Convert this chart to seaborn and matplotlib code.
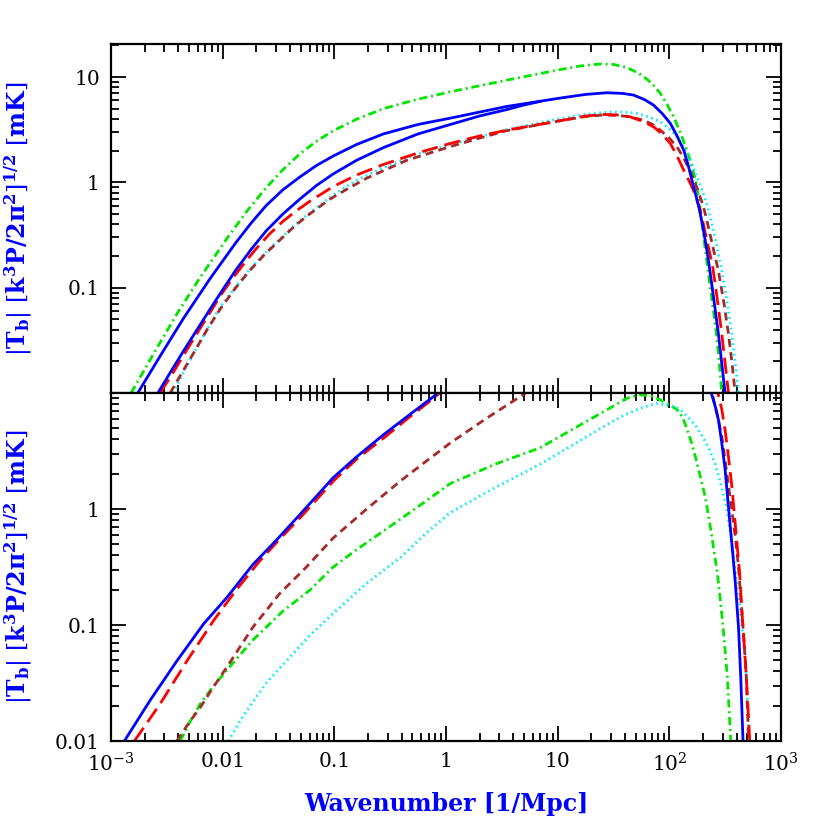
import numpy as np
import matplotlib
matplotlib.use("Agg")
import matplotlib.pyplot as plt
import seaborn as sns
from matplotlib.ticker import LogLocator, NullFormatter, FixedLocator

# log10(k [1/Mpc]) and log10(|T_b| [mK])

# --- upper panel ---
top_green_logk = [-2.82, -2.62, -2.41, -2.20, -1.96, -1.78, -1.61, -1.46, -1.31, -1.16, -1.01, -0.80,
                  -0.56, -0.25, 0.04, 0.54, 1.02, 1.20, 1.38, 1.50, 1.62, 1.72, 1.80, 1.86, 1.92,
                  1.98, 2.04, 2.10, 2.16, 2.20, 2.24, 2.27, 2.30, 2.33, 2.36, 2.39, 2.42, 2.445, 2.47]
top_green_logT = [-2.00, -1.63, -1.25, -0.90, -0.53, -0.27, -0.05, 0.12, 0.27, 0.39, 0.49, 0.60,
                  0.70, 0.79, 0.86, 0.97, 1.07, 1.105, 1.124, 1.12, 1.09, 1.04, 0.98, 0.92, 0.845,
                  0.74, 0.62, 0.47, 0.30, 0.16, 0.00, -0.20, -0.45, -0.70, -0.94, -1.18, -1.42, -1.68, -2.00]

top_blue1_logk = [-2.76, -2.56, -2.35, -2.11, -1.88, -1.74, -1.61, -1.46, -1.31, -1.16, -1.01, -0.80,
                  -0.56, -0.25, 0.04, 0.54, 1.02, 1.25, 1.44, 1.58, 1.68, 1.78, 1.86, 1.94, 2.01,
                  2.07, 2.13, 2.17, 2.21, 2.24, 2.27, 2.30, 2.33, 2.36, 2.40, 2.44, 2.47, 2.50]
top_blue1_logT = [-2.00, -1.65, -1.29, -0.91, -0.57, -0.38, -0.22, -0.07, 0.05, 0.16, 0.25, 0.36,
                  0.46, 0.55, 0.61, 0.72, 0.80, 0.835, 0.851, 0.845, 0.829, 0.785, 0.733, 0.65, 0.559,
                  0.44, 0.305, 0.16, -0.01, -0.13, -0.26, -0.42, -0.60, -0.81, -1.12, -1.44, -1.72, -2.00]

top_blue2_logk = [-2.58, -2.46, -2.35, -2.23, -2.11, -2.00, -1.88, -1.74, -1.61, -1.46, -1.31, -1.16,
                  -1.01, -0.80, -0.56, -0.25, 0.04, 0.30, 0.54, 0.70, 0.85]
top_blue2_logT = [-2.00, -1.79, -1.60, -1.40, -1.20, -1.02, -0.83, -0.63, -0.46, -0.30, -0.16, -0.03,
                  0.08, 0.21, 0.33, 0.46, 0.55, 0.63, 0.69, 0.735, 0.77]

top_red_logk = [-2.56, -2.44, -2.32, -2.21, -2.11, -2.01, -1.91, -1.80, -1.70, -1.58, -1.46, -1.34,
                -1.22, -1.01, -0.80, -0.56, -0.25, 0.04, 0.30, 0.54, 1.02, 1.25, 1.41, 1.55, 1.65,
                1.76, 1.86, 1.94, 2.01, 2.07, 2.13, 2.17, 2.21, 2.24, 2.27, 2.30, 2.33, 2.36, 2.39,
                2.43, 2.47, 2.50, 2.53]
top_red_logT = [-2.00, -1.80, -1.59, -1.40, -1.23, -1.06, -0.91, -0.76, -0.63, -0.49, -0.37, -0.27,
                -0.18, -0.04, 0.07, 0.17, 0.28, 0.37, 0.44, 0.495, 0.585, 0.63, 0.645, 0.64, 0.622,
                0.58, 0.527, 0.455, 0.368, 0.25, 0.114, 0.03, -0.06, -0.14, -0.24, -0.37, -0.52, -0.66, -0.81,
                -1.11, -1.44, -1.72, -2.00]

top_brown_logk = [-2.47, -2.36, -2.26, -2.14, -2.02, -1.89, -1.76, -1.62, -1.49, -1.35, -1.22, -1.04,
                  -0.88, -0.71, -0.35, 0.04, 0.30, 0.54, 1.02, 1.25, 1.41, 1.55, 1.65, 1.77, 1.85,
                  1.92, 2.00, 2.07, 2.13, 2.19, 2.23, 2.27, 2.30, 2.33, 2.36, 2.39, 2.44, 2.49, 2.53,
                  2.56, 2.59]
top_brown_logT = [-2.00, -1.80, -1.62, -1.40, -1.20, -1.01, -0.84, -0.68, -0.55, -0.41, -0.30, -0.16,
                  -0.06, 0.04, 0.21, 0.34, 0.42, 0.49, 0.585, 0.625, 0.64, 0.635, 0.622, 0.59, 0.55,
                  0.495, 0.42, 0.336, 0.23, 0.10, 0.00, -0.12, -0.21, -0.33, -0.47, -0.61, -0.84, -1.15, -1.44,
                  -1.70, -2.00]

top_cyan_logk = [-2.44, -2.34, -2.23, -2.12, -2.02, -1.89, -1.76, -1.62, -1.49, -1.35, -1.22, -1.01,
                 -0.80, -0.56, -0.25, 0.04, 0.30, 0.54, 1.02, 1.25, 1.47, 1.60, 1.71, 1.82, 1.92,
                 2.00, 2.07, 2.13, 2.19, 2.23, 2.27, 2.31, 2.35, 2.39, 2.42, 2.47, 2.52, 2.56, 2.59, 2.62]
top_cyan_logT = [-2.00, -1.78, -1.57, -1.36, -1.18, -1.00, -0.83, -0.67, -0.54, -0.40, -0.29, -0.12,
                 0.02, 0.14, 0.27, 0.36, 0.43, 0.50, 0.606, 0.645, 0.67, 0.668, 0.654, 0.62, 0.575,
                 0.51, 0.432, 0.33, 0.21, 0.10, -0.01, -0.12, -0.26, -0.43, -0.58, -0.83, -1.15, -1.44, -1.70, -2.00]

# --- lower panel (points just above 10 mK bridge the part that runs off the top) ---
bot_blue_logk = [-2.88, -2.65, -2.41, -2.17, -1.96, -1.73, -1.52, -1.31, -1.01, -0.80, -0.56, -0.33,
                 -0.11, 0.00, 2.36, 2.38, 2.41, 2.44, 2.47, 2.50, 2.54, 2.57, 2.59, 2.62, 2.64, 2.66]
bot_blue_logT = [-2.00, -1.65, -1.31, -0.99, -0.76, -0.48, -0.27, -0.05, 0.27, 0.45, 0.64, 0.81,
                 0.97, 1.06, 1.06, 0.985, 0.89, 0.77, 0.57, 0.34, -0.09, -0.40, -0.62, -1.02, -1.45, -1.99]

bot_red_logk = [-2.79, -2.56, -2.32, -2.08, -1.88, -1.67, -1.49, -1.31, -1.01, -0.80, -0.56, -0.33,
                -0.11, 0.00, 2.40, 2.44, 2.47, 2.50, 2.53, 2.56, 2.60, 2.63, 2.65, 2.67, 2.69, 2.72]
bot_red_logT = [-2.00, -1.68, -1.31, -0.96, -0.70, -0.45, -0.26, -0.08, 0.24, 0.43, 0.61, 0.79,
                0.955, 1.05, 1.05, 0.985, 0.86, 0.68, 0.45, 0.20, -0.23, -0.55, -0.88, -1.15, -1.45, -1.99]

bot_brown_logk = [-2.41, -2.30, -2.20, -2.08, -1.96, -1.73, -1.49, -1.25, -1.01, -0.71, -0.41, -0.18,
                  0.04, 0.36, 0.69, 0.80, 2.36, 2.39, 2.43, 2.47, 2.50, 2.53, 2.56, 2.59, 2.62, 2.65,
                  2.67, 2.69, 2.71]
bot_brown_logT = [-2.00, -1.84, -1.71, -1.53, -1.36, -1.02, -0.73, -0.50, -0.25, 0.00, 0.24, 0.41,
                  0.57, 0.78, 0.985, 1.05, 1.05, 0.97, 0.81, 0.63, 0.42, 0.20, -0.01, -0.23, -0.50, -0.88,
                  -1.15, -1.45, -1.99]

bot_green_logk = [-2.38, -2.29, -2.20, -2.10, -1.99, -1.73, -1.46, -1.22, -1.01, -0.80, -0.56, -0.25,
                  0.04, 0.45, 0.84, 1.23, 1.45, 1.62, 1.74, 1.83, 1.92, 2.00, 2.07, 2.12, 2.16,
                  2.20, 2.24, 2.28, 2.32, 2.35, 2.38, 2.40, 2.43, 2.45, 2.48, 2.52, 2.55]
bot_green_logT = [-2.00, -1.83, -1.68, -1.55, -1.42, -1.13, -0.88, -0.70, -0.50, -0.35, -0.19, 0.02,
                  0.22, 0.39, 0.526, 0.74, 0.86, 0.955, 0.985, 0.975, 0.941, 0.90, 0.856, 0.79, 0.684,
                  0.57, 0.427, 0.27, 0.112, -0.05, -0.23, -0.36, -0.55, -0.72, -1.00, -1.45, -1.99]

bot_cyan_logk = [-1.95, -1.82, -1.61, -1.40, -1.22, -1.01, -0.71, -0.41, -0.18, 0.04, 0.45, 0.84,
                 1.15, 1.44, 1.60, 1.74, 1.89, 2.04, 2.10, 2.17, 2.24, 2.30, 2.36, 2.41, 2.45, 2.48,
                 2.51, 2.56, 2.60, 2.64, 2.67, 2.69, 2.72]
bot_cyan_logT = [-2.00, -1.79, -1.50, -1.28, -1.09, -0.90, -0.64, -0.42, -0.21, -0.03, 0.19, 0.384,
                 0.56, 0.727, 0.81, 0.87, 0.91, 0.884, 0.856, 0.79, 0.712, 0.62, 0.512, 0.39, 0.255, 0.14,
                 0.026, -0.28, -0.60, -0.90, -1.18, -1.45, -2.00]

xtick_vals = [1e-3, 1e-2, 1e-1, 1, 10, 1e2, 1e3]
xtick_labels = [r"$\mathdefault{10^{-3}}$", "0.01", "0.1", "1", "10",
                r"$\mathdefault{10^{2}}$", r"$\mathdefault{10^{3}}$"]
top_ytick_vals = [0.1, 1, 10]
top_ytick_labels = ["0.1", "1", "10"]
bot_ytick_vals = [0.01, 0.1, 1]
bot_ytick_labels = ["0.01", "0.1", "1"]

ylabel = r"$|\mathbf{T_b}|\ [\mathbf{k^3P/2\pi^2}]^{\mathbf{1/2}}\ [\mathbf{mK}]$"

# colour, linestyle
styles = {
    "blue": ("#0000ff", "-"),
    "red": ("#ff0000", (0, (5.8, 2.5))),
    "brown": ("#a52a2a", (0, (2.9, 1.9))),
    "green": ("#00e600", (0, (2.9, 1.4, 0.7, 1.4))),
    "cyan": ("#00eeff", (0, (0.6, 1.3))),
}

sns.set_style("ticks")
plt.rcParams["font.family"] = ["DejaVu Serif"]
plt.rcParams["mathtext.fontset"] = "dejavuserif"


def draw(ax, logk, logT, name):
    color, ls = styles[name]
    sns.lineplot(x=np.power(10.0, logk), y=np.power(10.0, logT), ax=ax, color=color,
                 linestyle=ls, linewidth=2.0, errorbar=None, sort=False)


fig = plt.figure(figsize=(8.3, 8.3), dpi=100)
ax_top = fig.add_axes([0.1337, 0.5265, 0.8072, 0.4205])
ax_bot = fig.add_axes([0.1337, 0.1072, 0.8072, 0.4193])

for ax in (ax_top, ax_bot):
    ax.set_xscale("log")
    ax.set_yscale("log")

draw(ax_top, top_green_logk, top_green_logT, "green")
draw(ax_top, top_cyan_logk, top_cyan_logT, "cyan")
draw(ax_top, top_brown_logk, top_brown_logT, "brown")
draw(ax_top, top_red_logk, top_red_logT, "red")
draw(ax_top, top_blue2_logk, top_blue2_logT, "blue")
draw(ax_top, top_blue1_logk, top_blue1_logT, "blue")

draw(ax_bot, bot_green_logk, bot_green_logT, "green")
draw(ax_bot, bot_cyan_logk, bot_cyan_logT, "cyan")
draw(ax_bot, bot_brown_logk, bot_brown_logT, "brown")
draw(ax_bot, bot_red_logk, bot_red_logT, "red")
draw(ax_bot, bot_blue_logk, bot_blue_logT, "blue")

for ax in (ax_top, ax_bot):
    ax.set_xlim(1e-3, 1e3)
    ax.xaxis.set_major_locator(FixedLocator(xtick_vals))
    ax.xaxis.set_minor_locator(LogLocator(base=10, subs=np.arange(2, 10), numticks=20))
    ax.yaxis.set_minor_locator(LogLocator(base=10, subs=np.arange(2, 10), numticks=20))
    ax.xaxis.set_minor_formatter(NullFormatter())
    ax.yaxis.set_minor_formatter(NullFormatter())
    ax.tick_params(which="both", direction="in", top=True, right=True, width=1.3, colors="black")
    ax.tick_params(which="major", length=10.5, labelsize=14.5, pad=8)
    ax.tick_params(which="minor", length=5.5)
    for sp in ax.spines.values():
        sp.set_linewidth(1.6)
        sp.set_color("black")
    ax.set_xlabel("")
    ax.set_ylabel(ylabel, color="#0000ff", fontsize=17, fontweight="bold")
    ax.yaxis.set_label_coords(-0.115, 0.5)

ax_top.set_yticks(top_ytick_vals)
ax_top.set_yticklabels(top_ytick_labels)
ax_bot.set_yticks(bot_ytick_vals)
ax_bot.set_yticklabels(bot_ytick_labels)
ax_top.set_ylim(0.01, 10 ** 1.314)
ax_bot.set_ylim(0.01, 10)

ax_top.tick_params(labelbottom=False)
ax_bot.set_xticks(xtick_vals)
ax_bot.set_xticklabels(xtick_labels)
ax_bot.set_xlabel("Wavenumber [1/Mpc]", color="#0000ff", fontsize=17, fontweight="bold",
                  labelpad=12)

fig.savefig("out.png", dpi=100)
